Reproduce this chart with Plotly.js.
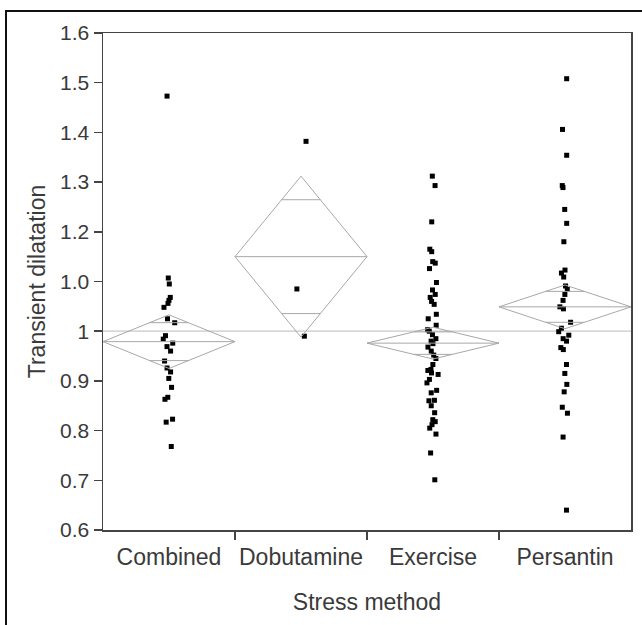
<!DOCTYPE html>
<html>
<head>
<meta charset="utf-8">
<script src="https://cdn.plot.ly/plotly-3.0.1.min.js"></script>
<style>
  html, body { margin:0; padding:0; background:#fff; overflow:hidden; }
  #frame { position:absolute; left:5px; top:10px; width:800px; height:800px;
           border-left:2px solid #111; border-top:2px solid #111; }
  #chart { position:absolute; left:0; top:0; width:642px; height:625px; }
</style>
</head>
<body>
<div id="frame"></div>
<div id="chart"></div>
<script>
// ---- data ----
const categories = ["Combined", "Dobutamine", "Exercise", "Persantin"];

const combined = [1.473, 1.107, 1.095, 1.068, 1.062, 1.056, 1.048, 1.025, 1.017,
  0.991, 0.984, 0.976, 0.969, 0.960, 0.940, 0.926, 0.918, 0.905, 0.887, 0.867,
  0.863, 0.823, 0.817, 0.768];

const dobutamine = [1.382, 1.085, 0.990];

const exercise = [1.312, 1.293, 1.220, 1.165, 1.160, 1.140, 1.137, 1.126, 1.098,
  1.083, 1.074, 1.068, 1.060, 1.054, 1.034, 1.025, 1.012, 1.003, 1.000, 0.993,
  0.985, 0.980, 0.975, 0.968, 0.960, 0.952, 0.945, 0.933, 0.923, 0.921, 0.916,
  0.913, 0.903, 0.896, 0.881, 0.876, 0.861, 0.860, 0.850, 0.836, 0.822, 0.818,
  0.812, 0.805, 0.793, 0.755, 0.701];

const persantin = [1.508, 1.406, 1.354, 1.293, 1.289, 1.245, 1.217, 1.180, 1.123,
  1.117, 1.109, 1.091, 1.084, 1.074, 1.062, 1.049, 1.045, 1.018, 1.006, 0.999,
  0.992, 0.985, 0.980, 0.967, 0.963, 0.933, 0.915, 0.893, 0.878, 0.847, 0.835,
  0.787, 0.640];

// means diamonds: group mean and 95% CI half-width
const groupMeans = [0.979, 1.150, 0.976, 1.049];
const ciHalf = [0.054, 0.162, 0.032, 0.044];
const grandMean = 1.0;

const yTickVals = [0.6, 0.7, 0.8, 0.9, 1.0, 1.1, 1.2, 1.3, 1.4, 1.5, 1.6];
const yTickText = ["0.6", "0.7", "0.8", "0.9", "1", "1.0", "1.2", "1.3", "1.4", "1.5", "1.6"];

const groups = [combined, dobutamine, exercise, persantin];

// ---- build traces ----
const FONT = "'Liberation Sans', Arial, sans-serif";
const idx = categories.map((c, i) => i);

const dx = [], dy = [];
const lx = [], ly = [];
const k = 1 - Math.SQRT1_2; // half-width fraction at overlap marks
idx.forEach(i => {
  const m = groupMeans[i], c = ciHalf[i];
  dx.push(i - 0.5, i, i + 0.5, i, i - 0.5, null);
  dy.push(m, m + c, m, m - c, m, null);
  lx.push(i - 0.5, i + 0.5, null); ly.push(m, m, null);
  const o = c * Math.SQRT1_2;
  lx.push(i - 0.5 * k, i + 0.5 * k, null); ly.push(m + o, m + o, null);
  lx.push(i - 0.5 * k, i + 0.5 * k, null); ly.push(m - o, m - o, null);
});

const traces = [
  { type: 'scatter', mode: 'lines', x: dx, y: dy, line: { color: '#a8a8a8', width: 1 },
    hoverinfo: 'skip', showlegend: false },
  { type: 'scatter', mode: 'lines', x: lx, y: ly, line: { color: '#a8a8a8', width: 1 },
    hoverinfo: 'skip', showlegend: false }
];

groups.forEach((g, i) => {
  traces.push({
    type: 'box', y: g, x0: i, name: categories[i], width: 0.7,
    boxpoints: 'all', jitter: 0.14, pointpos: 0,
    marker: { symbol: 'square', size: 5, color: '#000' },
    line: { width: 0, color: 'rgba(0,0,0,0)' },
    fillcolor: 'rgba(0,0,0,0)', hoverinfo: 'skip', showlegend: false
  });
});

const layout = {
  width: 642, height: 625,
  margin: { l: 103, r: 11, t: 33, b: 95 },
  paper_bgcolor: 'rgba(0,0,0,0)', plot_bgcolor: '#fff',
  font: { family: FONT, color: '#3a3a3a' },
  showlegend: false,
  boxmode: 'overlay',
  xaxis: {
    range: [-0.5, 3.5], tickmode: 'array', tickvals: idx, ticktext: categories,
    ticks: '', showgrid: false, zeroline: false,
    showline: true, mirror: true, linecolor: '#444', linewidth: 1.5,
    tickfont: { size: 23, color: '#3a3a3a' },
    ticklabelstandoff: 6,
    minor: { tickmode: 'array', tickvals: [0.5, 1.5, 2.5], ticks: 'outside', ticklen: 8,
             tickcolor: '#444', tickwidth: 1.5, showgrid: false },
    title: { text: 'Stress method', font: { size: 23, color: '#3a3a3a' }, standoff: 25 },
    fixedrange: true
  },
  yaxis: {
    range: [0.6, 1.6], tickmode: 'array', tickvals: yTickVals, ticktext: yTickText,
    ticks: 'outside', ticklen: 8, tickcolor: '#444', tickwidth: 1.5,
    showgrid: false, zeroline: false,
    showline: true, mirror: true, linecolor: '#444', linewidth: 1.5,
    tickfont: { size: 21, color: '#3a3a3a' },
    title: { text: 'Transient dilatation', font: { size: 23, color: '#3a3a3a' }, standoff: 8 },
    fixedrange: true
  },
  shapes: [
    { type: 'line', xref: 'paper', x0: 0, x1: 1, yref: 'y', y0: grandMean, y1: grandMean,
      line: { color: '#c8c8c8', width: 1.2 }, layer: 'below' }
  ]
};

Plotly.newPlot('chart', traces, layout, { staticPlot: true, displayModeBar: false });
</script>
</body>
</html>
